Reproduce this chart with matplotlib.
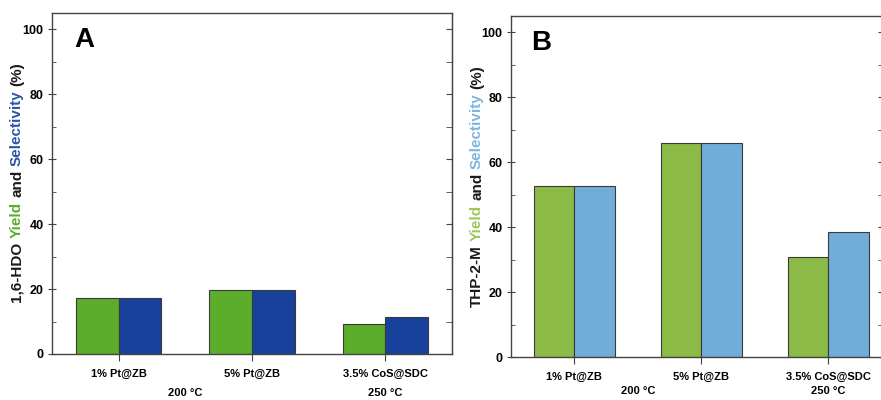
import numpy as np
import matplotlib
matplotlib.use('Agg')
from matplotlib import pyplot as plt
from matplotlib.ticker import MultipleLocator
from matplotlib.transforms import IdentityTransform, blended_transform_factory

plt.rcParams['font.family'] = ['Liberation Sans', 'DejaVu Sans']
plt.rcParams['font.weight'] = 'bold'

catalysts = ['1% Pt@ZB', '5% Pt@ZB', '3.5% CoS@SDC']
temps = ['200 °C', '250 °C']

# panel A: 1,6-HDO
hdo_yield = [17.1, 19.8, 9.3]
hdo_select = [17.1, 19.8, 11.4]
# panel B: THP-2-M
thp_yield = [52.7, 66.0, 30.9]
thp_select = [52.7, 66.0, 38.5]

W, H = 881, 400
fig = plt.figure(figsize=(W / 100, H / 100), dpi=100)

def px_axes(l, t, r, b):
    return fig.add_axes([l / W, 1 - b / H, (r - l) / W, (b - t) / H])

axA = px_axes(52, 13, 452, 354)
axB = px_axes(511, 16, 884, 357)

def draw_panel(ax, yld, sel, c_yld, c_sel, letter, xmax, temp_y):
    x = np.arange(1, len(catalysts) + 1)
    w = 0.32
    ax.bar(x - w / 2, yld, w, color=c_yld, edgecolor='#3a3a3a', linewidth=0.8)
    ax.bar(x + w / 2, sel, w, color=c_sel, edgecolor='#3a3a3a', linewidth=0.8)
    ax.set_xlim(0.5, xmax)
    ax.set_ylim(0, 105)
    ax.set_xticks(x)
    ax.set_xticklabels(catalysts, fontsize=8, fontweight='bold')
    ax.set_yticks([0, 20, 40, 60, 80, 100])
    ax.yaxis.set_minor_locator(MultipleLocator(10))
    ax.tick_params(axis='y', which='major', direction='inout', length=6, labelsize=9, right=False, pad=3)
    ax.tick_params(axis='y', which='minor', direction='in', length=3, right=False)
    ax.tick_params(axis='x', direction='out', length=5, pad=6)
    for lab in ax.get_yticklabels():
        lab.set_fontweight('bold')
    sec = ax.secondary_yaxis('right')
    sec.set_yticks([0, 20, 40, 60, 80, 100])
    sec.yaxis.set_minor_locator(MultipleLocator(10))
    sec.tick_params(which='both', direction='in', length=4, labelright=False, color='#444444')
    sec.spines['right'].set_color('#444444')
    for s in ax.spines.values():
        s.set_color('#444444')
        s.set_linewidth(1.0)
    ax.tick_params(which='both', color='#444444')
    tr = blended_transform_factory(ax.transData, ax.transAxes)
    ax.text(1.5, temp_y, temps[0], transform=tr, ha='center', va='center', fontsize=8, fontweight='bold')
    ax.text(3, temp_y, temps[1], transform=tr, ha='center', va='center', fontsize=8, fontweight='bold')
    ax.text(0.055, 0.92, letter, transform=ax.transAxes, ha='left', va='center', fontsize=20, fontweight='bold')

draw_panel(axA, hdo_yield, hdo_select, '#5cad2c', '#17419a', 'A', 3.5, -0.113)
draw_panel(axB, thp_yield, thp_select, '#8cba47', '#70aed9', 'B', 3.44, -0.10)

def multicolor_ylabel(parts, x_px, yc_px, size=11):
    fig.canvas.draw()
    r = fig.canvas.get_renderer()
    def length(s):
        t = fig.text(0, 0, s, fontsize=size, fontweight='bold', rotation=90)
        h = t.get_window_extent(r).height
        t.remove()
        return h
    gap = length('a a') - length('aa')
    lens = [length(s) for s, _ in parts]
    total = sum(lens) + gap * (len(parts) - 1)
    y = (H - yc_px) - total / 2
    for (s, c), h in zip(parts, lens):
        fig.text(x_px, y, s, color=c, fontsize=size, fontweight='bold', rotation=90,
                 ha='center', va='bottom', transform=IdentityTransform())
        y += h + gap

multicolor_ylabel([('1,6-HDO', '#1a1a1a'), ('Yield', '#5cad2c'), ('and', '#1a1a1a'),
                   ('Selectivity', '#2a55a5'), ('(%)', '#1a1a1a')], 17, 182)
multicolor_ylabel([('THP-2-M', '#1a1a1a'), ('Yield', '#9cc85a'), ('and', '#1a1a1a'),
                   ('Selectivity', '#7db6de'), ('(%)', '#1a1a1a')], 477, 186)

fig.savefig('out.png', dpi=100)
